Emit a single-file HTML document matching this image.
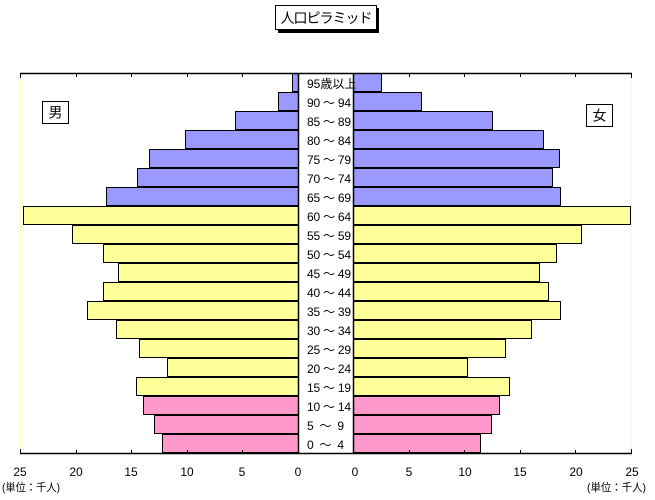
<!DOCTYPE html>
<html>
<head>
<meta charset="utf-8">
<style>
html,body{margin:0;padding:0;background:#fff;}
svg{display:block;}
text{font-family:"Liberation Sans","Noto Sans CJK JP",sans-serif;fill:#000;}
</style>
</head>
<body>
<svg width="655" height="500" viewBox="0 0 655 500" xmlns="http://www.w3.org/2000/svg">
<rect x="0" y="0" width="655" height="500" fill="#fff"/>
<!-- title -->
<rect x="278" y="8" width="101" height="25" fill="#000"/>
<rect x="275.5" y="5.5" width="101" height="24" fill="#fff" stroke="#000" stroke-width="1"/>
<text x="326" y="23" font-size="14" text-anchor="middle" letter-spacing="-1">人口ピラミッド</text>

<!-- plot area faint borders -->
<line x1="20.5" y1="73" x2="20.5" y2="453" stroke="#FFFFC0" stroke-width="1"/>
<line x1="631.5" y1="73" x2="631.5" y2="453" stroke="#FFFFC0" stroke-width="1"/>

<g stroke="#000" stroke-width="1">
<!-- left bars -->
<rect x="292.5" y="73.5" width="6" height="18" fill="#9999FF"/>
<rect x="278.5" y="92.5" width="20" height="18" fill="#9999FF"/>
<rect x="235.5" y="111.5" width="63" height="18" fill="#9999FF"/>
<rect x="185.5" y="130.5" width="113" height="18" fill="#9999FF"/>
<rect x="149.5" y="149.5" width="149" height="18" fill="#9999FF"/>
<rect x="137.5" y="168.5" width="161" height="18" fill="#9999FF"/>
<rect x="106.5" y="187.5" width="192" height="18" fill="#9999FF"/>
<rect x="23.5" y="206.5" width="275" height="18" fill="#FFFF99"/>
<rect x="72.5" y="225.5" width="226" height="18" fill="#FFFF99"/>
<rect x="103.5" y="244.5" width="195" height="18" fill="#FFFF99"/>
<rect x="118.5" y="263.5" width="180" height="18" fill="#FFFF99"/>
<rect x="103.5" y="282.5" width="195" height="18" fill="#FFFF99"/>
<rect x="87.5" y="301.5" width="211" height="18" fill="#FFFF99"/>
<rect x="116.5" y="320.5" width="182" height="18" fill="#FFFF99"/>
<rect x="139.5" y="339.5" width="159" height="18" fill="#FFFF99"/>
<rect x="167.5" y="358.5" width="131" height="18" fill="#FFFF99"/>
<rect x="136.5" y="377.5" width="162" height="18" fill="#FFFF99"/>
<rect x="143.5" y="396.5" width="155" height="18" fill="#FF99CC"/>
<rect x="154.5" y="415.5" width="144" height="18" fill="#FF99CC"/>
<rect x="162.5" y="434.5" width="136" height="18" fill="#FF99CC"/>
<!-- right bars -->
<rect x="353.5" y="73.5" width="28" height="18" fill="#9999FF"/>
<rect x="353.5" y="92.5" width="68" height="18" fill="#9999FF"/>
<rect x="353.5" y="111.5" width="139" height="18" fill="#9999FF"/>
<rect x="353.5" y="130.5" width="190" height="18" fill="#9999FF"/>
<rect x="353.5" y="149.5" width="206" height="18" fill="#9999FF"/>
<rect x="353.5" y="168.5" width="199" height="18" fill="#9999FF"/>
<rect x="353.5" y="187.5" width="207" height="18" fill="#9999FF"/>
<rect x="353.5" y="206.5" width="277" height="18" fill="#FFFF99"/>
<rect x="353.5" y="225.5" width="228" height="18" fill="#FFFF99"/>
<rect x="353.5" y="244.5" width="203" height="18" fill="#FFFF99"/>
<rect x="353.5" y="263.5" width="186" height="18" fill="#FFFF99"/>
<rect x="353.5" y="282.5" width="195" height="18" fill="#FFFF99"/>
<rect x="353.5" y="301.5" width="207" height="18" fill="#FFFF99"/>
<rect x="353.5" y="320.5" width="178" height="18" fill="#FFFF99"/>
<rect x="353.5" y="339.5" width="152" height="18" fill="#FFFF99"/>
<rect x="353.5" y="358.5" width="114" height="18" fill="#FFFF99"/>
<rect x="353.5" y="377.5" width="156" height="18" fill="#FFFF99"/>
<rect x="353.5" y="396.5" width="146" height="18" fill="#FF99CC"/>
<rect x="353.5" y="415.5" width="138" height="18" fill="#FF99CC"/>
<rect x="353.5" y="434.5" width="127" height="18" fill="#FF99CC"/>
</g>

<!-- axes -->
<g stroke="#000" stroke-width="1.5" fill="none">
<line x1="20" y1="73.5" x2="632" y2="73.5"/>
<line x1="20" y1="453.5" x2="632" y2="453.5"/>
<line x1="298.5" y1="73" x2="298.5" y2="454"/>
<line x1="353.5" y1="73" x2="353.5" y2="454"/>
</g>
<g stroke="#000" stroke-width="1">
<!-- top ticks -->
<line x1="20.5" y1="73" x2="20.5" y2="78"/>
<line x1="76.5" y1="73" x2="76.5" y2="77"/>
<line x1="131.5" y1="73" x2="131.5" y2="77"/>
<line x1="187.5" y1="73" x2="187.5" y2="77"/>
<line x1="242.5" y1="73" x2="242.5" y2="77"/>
<line x1="409.5" y1="73" x2="409.5" y2="77"/>
<line x1="464.5" y1="73" x2="464.5" y2="77"/>
<line x1="520.5" y1="73" x2="520.5" y2="77"/>
<line x1="575.5" y1="73" x2="575.5" y2="77"/>
<line x1="631.5" y1="73" x2="631.5" y2="78"/>
<!-- bottom ticks -->
<line x1="20.5" y1="449" x2="20.5" y2="454"/>
<line x1="76.5" y1="450" x2="76.5" y2="454"/>
<line x1="131.5" y1="450" x2="131.5" y2="454"/>
<line x1="187.5" y1="450" x2="187.5" y2="454"/>
<line x1="242.5" y1="450" x2="242.5" y2="454"/>
<line x1="409.5" y1="450" x2="409.5" y2="454"/>
<line x1="464.5" y1="450" x2="464.5" y2="454"/>
<line x1="520.5" y1="450" x2="520.5" y2="454"/>
<line x1="575.5" y1="450" x2="575.5" y2="454"/>
<line x1="631.5" y1="449" x2="631.5" y2="454"/>
</g>

<!-- age labels -->
<g font-size="12">
<text x="307" y="88">95歳以上</text>
<text x="307" y="107" textLength="44" lengthAdjust="spacing">90 ～ 94</text>
<text x="307" y="126" textLength="44" lengthAdjust="spacing">85 ～ 89</text>
<text x="307" y="145" textLength="44" lengthAdjust="spacing">80 ～ 84</text>
<text x="307" y="164" textLength="44" lengthAdjust="spacing">75 ～ 79</text>
<text x="307" y="183" textLength="44" lengthAdjust="spacing">70 ～ 74</text>
<text x="307" y="202" textLength="44" lengthAdjust="spacing">65 ～ 69</text>
<text x="307" y="221" textLength="44" lengthAdjust="spacing">60 ～ 64</text>
<text x="307" y="240" textLength="44" lengthAdjust="spacing">55 ～ 59</text>
<text x="307" y="259" textLength="44" lengthAdjust="spacing">50 ～ 54</text>
<text x="307" y="278" textLength="44" lengthAdjust="spacing">45 ～ 49</text>
<text x="307" y="297" textLength="44" lengthAdjust="spacing">40 ～ 44</text>
<text x="307" y="316" textLength="44" lengthAdjust="spacing">35 ～ 39</text>
<text x="307" y="335" textLength="44" lengthAdjust="spacing">30 ～ 34</text>
<text x="307" y="354" textLength="44" lengthAdjust="spacing">25 ～ 29</text>
<text x="307" y="373" textLength="44" lengthAdjust="spacing">20 ～ 24</text>
<text x="307" y="392" textLength="44" lengthAdjust="spacing">15 ～ 19</text>
<text x="307" y="411" textLength="44" lengthAdjust="spacing">10 ～ 14</text>
<text x="307" y="430" textLength="37" lengthAdjust="spacing">5 ～ 9</text>
<text x="307" y="449" textLength="37" lengthAdjust="spacing">0 ～ 4</text>
</g>

<!-- tick labels -->
<g font-size="12" text-anchor="middle">
<text x="20" y="476">25</text>
<text x="76" y="476">20</text>
<text x="131" y="476">15</text>
<text x="187" y="476">10</text>
<text x="242" y="476">5</text>
<text x="298" y="476">0</text>
<text x="355" y="476">0</text>
<text x="409" y="476">5</text>
<text x="465" y="476">10</text>
<text x="520" y="476">15</text>
<text x="576" y="476">20</text>
<text x="632" y="476">25</text>
</g>
<text x="2" y="491" font-size="11" textLength="58" lengthAdjust="spacingAndGlyphs">(単位：千人)</text>
<text x="587" y="491" font-size="11" textLength="59" lengthAdjust="spacingAndGlyphs">(単位：千人)</text>

<!-- gender boxes -->
<rect x="42.5" y="101.5" width="26" height="22" fill="#fff" stroke="#000" stroke-width="1"/>
<text x="55.5" y="117.5" font-size="14" text-anchor="middle">男</text>
<rect x="586.5" y="104.5" width="26" height="22" fill="#fff" stroke="#000" stroke-width="1"/>
<text x="599.5" y="120.5" font-size="14" text-anchor="middle">女</text>
</svg>
</body>
</html>
